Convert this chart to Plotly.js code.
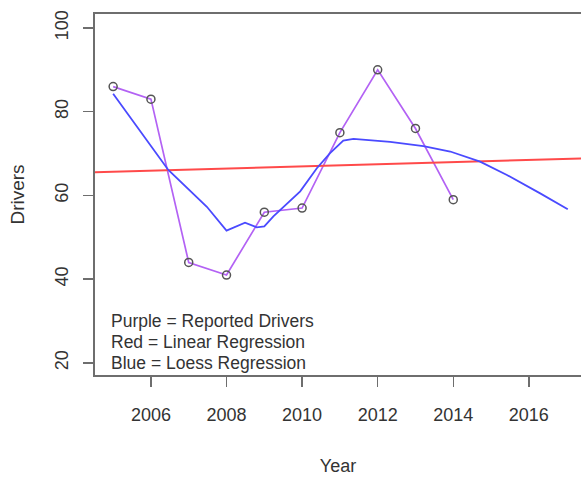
<!DOCTYPE html>
<html>
<head>
<meta charset="utf-8">
<script src="https://cdn.plot.ly/plotly-3.0.1.min.js"></script>
<style>
  html, body { margin: 0; padding: 0; background: #ffffff; }
  #chart { width: 581px; height: 477px; }
</style>
</head>
<body>
<div id="chart"></div>
<script>
// Reported drivers per year (purple)
const years = [2005, 2006, 2007, 2008, 2009, 2010, 2011, 2012, 2013, 2014];
const drivers = [86, 83, 44, 41, 56, 57, 75, 90, 76, 59];

// Linear regression line (red), endpoints
const linX = [2004, 2018];
const linY = [65.4, 69.0];

// Loess regression curve (blue)
const loessX = [2005, 2006.46, 2007.48, 2008.0, 2008.49, 2008.8, 2009.0, 2009.24, 2009.95, 2010.39, 2010.74, 2011.09, 2011.36, 2012.33, 2013.21, 2013.92, 2014.71, 2015.42, 2016.3, 2017.03];
const loessY = [84.3, 66.1, 57.3, 51.6, 53.5, 52.4, 52.6, 55.0, 61.0, 66.5, 70.1, 73.1, 73.5, 72.8, 71.8, 70.5, 68.1, 64.9, 60.5, 56.7];

// Tick labels
const xTicks = [2006, 2008, 2010, 2012, 2014, 2016];
const yTicks = [20, 40, 60, 80, 100];

// On-plot note
const noteLines = ["Purple = Reported Drivers", "Red = Linear Regression", "Blue = Loess Regression"];
const noteY = [30, 25, 20];

const FONT = '"Liberation Sans", Arial, sans-serif';
const TXT = '#333333';
const AX = '#6e6e6e';

const traces = [
  {
    x: years, y: drivers, type: 'scatter', mode: 'lines+markers',
    line: { color: '#b362f4', width: 1.7 },
    marker: { symbol: 'circle-open', size: 8, color: '#555555', line: { width: 1.5 } },
    hoverinfo: 'x+y', showlegend: false
  },
  {
    x: linX, y: linY, type: 'scatter', mode: 'lines',
    line: { color: '#ff4a4a', width: 2 },
    showlegend: false
  },
  {
    x: loessX, y: loessY, type: 'scatter', mode: 'lines',
    line: { color: '#4a4aff', width: 1.8 },
    showlegend: false
  }
];

const annotations = noteLines.map((t, i) => ({
  x: 2004.9, y: noteY[i], xref: 'x', yref: 'y',
  text: t, showarrow: false, xanchor: 'left', yanchor: 'middle',
  font: { family: FONT, size: 17.5, color: TXT }
}));

const layout = {
  width: 581, height: 477,
  margin: { l: 95, r: 0, t: 14, b: 102, pad: 0 },
  paper_bgcolor: '#ffffff', plot_bgcolor: '#ffffff',
  font: { family: FONT, color: TXT },
  showlegend: false,
  xaxis: {
    range: [2004.52, 2017.38],
    showgrid: false, zeroline: false,
    showline: true, mirror: true, linecolor: AX, linewidth: 2,
    ticks: 'outside', ticklen: 10, tickwidth: 1.5, tickcolor: AX,
    tickmode: 'array', tickvals: xTicks, ticktext: xTicks.map(String),
    tickfont: { family: FONT, size: 18, color: TXT },
    ticklabelstandoff: 12,
    title: { text: 'Year', font: { family: FONT, size: 18, color: TXT }, standoff: 36 },
    automargin: false, fixedrange: true
  },
  yaxis: {
    range: [17.13, 103.34],
    showgrid: false, zeroline: false,
    showline: true, mirror: false, linecolor: AX, linewidth: 2,
    ticks: 'outside', ticklen: 10, tickwidth: 1.5, tickcolor: AX,
    tickmode: 'array', tickvals: yTicks, ticktext: yTicks.map(String),
    tickangle: -90,
    tickfont: { family: FONT, size: 18, color: TXT },
    ticklabelstandoff: 8,
    title: { text: 'Drivers', font: { family: FONT, size: 19, color: TXT }, standoff: 22 },
    automargin: false, fixedrange: true
  },
  annotations: annotations
};

Plotly.newPlot('chart', traces, layout, { displayModeBar: false, staticPlot: true });
</script>
</body>
</html>
